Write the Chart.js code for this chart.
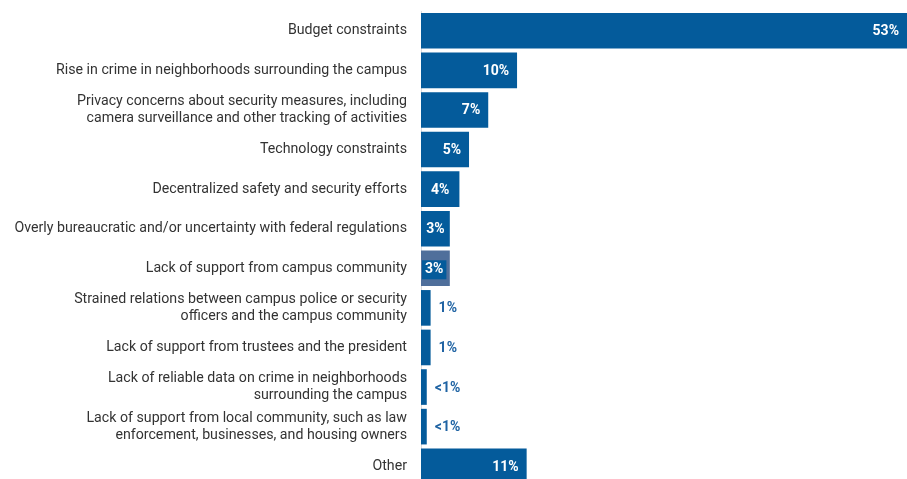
<!DOCTYPE html>
<html>
<head>
<meta charset="utf-8">
<script src="https://cdn.jsdelivr.net/npm/chart.js@4.4.1/dist/chart.umd.min.js"></script>
<style>
  html, body { margin: 0; padding: 0; background: #fff; overflow: hidden; }
  canvas { display: block; }
</style>
</head>
<body>
<canvas id="chart" width="907" height="486"></canvas>
<script>
// Challenges cited, share of respondents (%)
const categories = [
  'Budget constraints',
  'Rise in crime in neighborhoods surrounding the campus',
  ['Privacy concerns about security measures, including', 'camera surveillance and other tracking of activities'],
  'Technology constraints',
  'Decentralized safety and security efforts',
  'Overly bureaucratic and/or uncertainty with federal regulations',
  'Lack of support from campus community',
  ['Strained relations between campus police or security', 'officers and the campus community'],
  'Lack of support from trustees and the president',
  ['Lack of reliable data on crime in neighborhoods', 'surrounding the campus'],
  ['Lack of support from local community, such as law', 'enforcement, businesses, and housing owners'],
  'Other'
];
const values = [53, 10, 7, 5, 4, 3, 3, 1, 1, 0.6, 0.6, 11];
const valueLabels = ['53%', '10%', '7%', '5%', '4%', '3%', '3%', '1%', '1%', '<1%', '<1%', '11%'];

const BLUE = '#045b9b';
const HIGHLIGHT = '#4f6f9b';
const barColors = values.map((v, i) => i === 6 ? HIGHLIGHT : BLUE);

const FONT = 'Roboto, "Liberation Sans", Arial, sans-serif';

// Value labels: inside the bar end when there is room, centred in short bars, outside for tiny ones
const valueLabelPlugin = {
  id: 'valueLabels',
  afterDatasetsDraw(chart) {
    const ctx = chart.ctx;
    const area = chart.chartArea;
    const meta = chart.getDatasetMeta(0);
    ctx.save();
    ctx.font = 'bold 14px ' + FONT;
    ctx.textBaseline = 'middle';
    meta.data.forEach((bar, i) => {
      const text = valueLabels[i];
      const w = ctx.measureText(text).width;
      const end = Math.min(bar.x, area.right);
      const len = end - bar.base;
      const y = bar.y + 1;
      if (len >= w + 24) {
        ctx.fillStyle = '#ffffff';
        ctx.textAlign = 'right';
        ctx.fillText(text, end - 8, y);
      } else if (len >= w + 6) {
        if (i === 6) {
          ctx.fillStyle = BLUE;
          ctx.fillRect(bar.base + 1, y - 9, w + 6, 19);
          ctx.fillStyle = '#ffffff';
          ctx.textAlign = 'center';
          ctx.fillText(text, bar.base + 1 + (w + 6) / 2, y);
        } else {
          ctx.fillStyle = '#ffffff';
          ctx.textAlign = 'center';
          ctx.fillText(text, bar.base + len / 2, y);
        }
      } else {
        ctx.fillStyle = '#1f63a3';
        ctx.textAlign = 'left';
        ctx.fillText(text, end + 8, y);
      }
    });
    ctx.restore();
  }
};

new Chart(document.getElementById('chart'), {
  type: 'bar',
  data: {
    labels: categories,
    datasets: [{
      data: values,
      backgroundColor: barColors,
      borderWidth: 0,
      barPercentage: 0.9,
      categoryPercentage: 1.0
    }]
  },
  options: {
    indexAxis: 'y',
    responsive: false,
    animation: false,
    events: [],
    layout: { padding: { top: 11, bottom: 0, left: 0, right: 0 } },
    plugins: {
      legend: { display: false },
      tooltip: { enabled: false }
    },
    scales: {
      x: {
        display: false,
        min: 0,
        max: 50.6
      },
      y: {
        grid: { display: false, drawTicks: false },
        border: { display: true, color: '#dcdcdc', width: 1 },
        ticks: {
          color: '#333333',
          padding: 14,
          font: { family: FONT, size: 14.2, lineHeight: 1.22 }
        },
        afterFit(scale) {
          scale.width = 421;
          scale.paddingTop = 0;
          scale.paddingBottom = 0;
        }
      }
    }
  },
  plugins: [valueLabelPlugin]
});
</script>
</body>
</html>
